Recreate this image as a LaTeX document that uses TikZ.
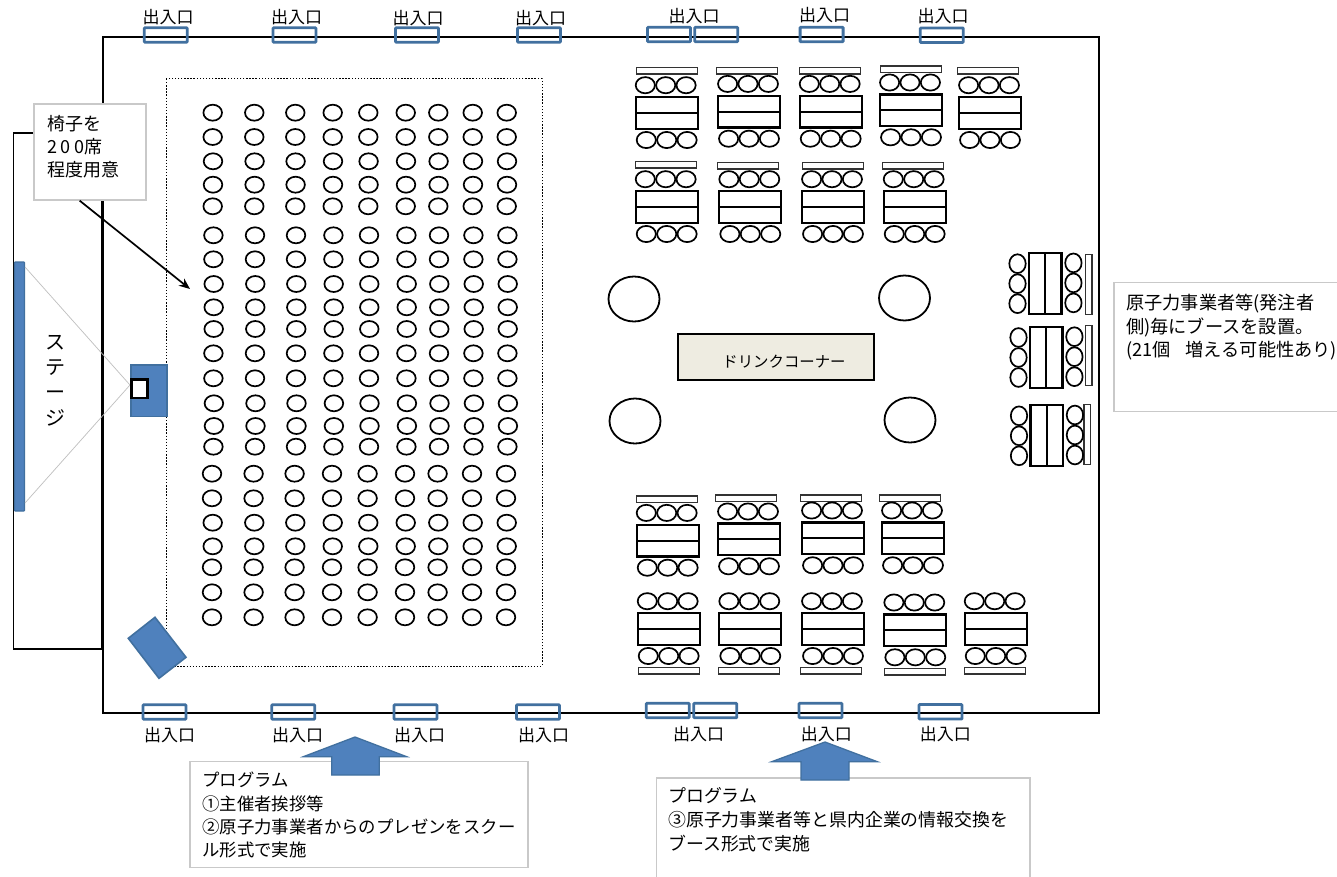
\documentclass[tikz,border=0pt]{standalone}
\usepackage{fontspec}
\setmainfont{Noto Sans CJK JP}
\newfontfamily\spreadfont[LetterSpace=20]{Noto Sans CJK JP}
\usetikzlibrary{shapes.geometric,arrows.meta}
\definecolor{hallblue}{HTML}{4F81BD}
\definecolor{edgeblue}{HTML}{41709F}
\definecolor{memogray}{HTML}{C9C9C9}
\definecolor{counter}{HTML}{EEECE1}
\tikzset{
	wall/.style={draw=black, line width=1.8pt},
	door/.style={draw=edgeblue, rectangle, rounded corners=0.8pt, line width=2.8pt, minimum width=43pt, minimum height=14.5pt, inner sep=0pt},
	doorlabel/.style={font=\fontsize{17}{20}\selectfont, inner sep=0pt},
	seat/.style={draw=black, ellipse, line width=1.7pt, minimum width=18.6pt, minimum height=16pt, inner sep=0pt},
	boothseat/.style={draw=black, ellipse, line width=1.7pt, minimum width=19.2pt, minimum height=16.2pt, inner sep=0pt},
	sideseat/.style={draw=black, ellipse, line width=1.7pt, minimum width=16.4pt, minimum height=18.8pt, inner sep=0pt},
	deskpart/.style={draw=black, rectangle, line width=2.2pt, minimum width=62pt, minimum height=15.8pt, inner sep=0pt},
	sidepart/.style={draw=black, rectangle, line width=2.2pt, minimum width=16.2pt, minimum height=61pt, inner sep=0pt},
	plank/.style={draw=black!80, rectangle, line width=1.3pt, minimum width=61pt, minimum height=6.6pt, inner sep=0pt},
	sideplank/.style={draw=black!80, rectangle, line width=1.3pt, minimum width=6.6pt, minimum height=60pt, inner sep=0pt},
	roundtable/.style={draw=black, ellipse, line width=1.8pt, minimum width=51pt, minimum height=45pt, inner sep=0pt},
	memo/.style={draw=memogray, fill=white, line width=1.3pt},
	memotext/.style={align=left, inner sep=0pt, anchor=north west},
	bluepart/.style={draw=edgeblue, fill=hallblue, line width=1.3pt},
}
\newcommand{\booth}[5]{
	\node[deskpart] (t-#1-a) at (#2,#3-7.9) {};
	\node[deskpart] (t-#1-b) at (#2,#3+7.9) {};
	\node[plank] (p-#1) at (#2+#4,#3+#5) {};
	\foreach \k in {-20.4,0,20.4} {
		\node[boothseat] at (#2-1+\k,#3-27.8) {};
		\node[boothseat] at (#2+\k,#3+27) {};
	}
}
\newcommand{\sidebooth}[5]{
	\node[sidepart] (t-#1-a) at (#2-8.1,#3) {};
	\node[sidepart] (t-#1-b) at (#2+8.1,#3) {};
	\node[sideplank] (p-#1) at (#2+#4,#3+#5) {};
	\foreach \k in {-20,0,20} {
		\node[sideseat] at (#2-27.7,#3+\k) {};
		\node[sideseat] at (#2+28.2,#3-0.8+\k) {};
	}
}

\begin{document}
\begin{tikzpicture}[x=1pt,y=-1pt]
	\clip (0,0) rectangle (1337,877);
	\fill[white] (0,0) rectangle (1337,877);

	\draw[wall] (103,37) rectangle (1099,713);
	\draw[wall] (102,133) -- (13.5,133) -- (13.5,649) -- (102,649);
	\draw[line width=2.8pt] (102,133) -- (102,649);
	\draw[black, line width=1pt, dash pattern=on 1.4pt off 1.7pt] (166,79) rectangle (542,666);

	\foreach \y/\d in {112.7/0,137/0,161.3/.3,184.7/.3,206.3/0,235.3/.7,259.3/.7,284/1,307.3/1,329/1,353.3/.7,378.3/.7,403.3/1.2,426/1.2,446.7/.7,473.7/-.7,498.3/-.7,522.7/0,546.3/0,567.3/-.7,592.3/-.7,617.3/-.7}
		\foreach \x in {212.7,254.3,295.3,332.7,368.3,405.7,438.3,472.7,506.7}
			\node[seat] at (\x+\d,\y) {};

	\foreach \n/\x/\y in {1/165.8/35,2/294.5/35,3/417/35,4/539/35,5/669/34.5,6/716.3/34.5,7/821.6/34.5,8/941.8/35.2,9/164.5/712,10/293.3/712,11/415.5/712,12/538/712,13/667.8/710.5,14/715.3/710.5,15/820.5/710.5,16/940.5/711.8}
		\node[door] (d-\n) at (\x,\y) {};
	\foreach \n/\x/\y in {1/168/17,2/296.5/17,3/418/18,4/540.5/18,5/694/16,6/824.7/15,7/943/16,8/169.5/735,9/297.5/735,10/419.5/735,11/543.7/735,12/698.5/734,13/826.3/734,14/945.3/734}
		\node[doorlabel] (l-\n) at (\x,\y) {出入口};

	\booth{1}{666.7}{113}{0}{-42.4}
	\booth{2}{749}{111.7}{-1.7}{-41}
	\booth{3}{830.7}{111.7}{-1}{-41}
	\booth{4}{911}{110.3}{0}{-41}
	\booth{5}{990}{113}{-2}{-42.3}
	\booth{6}{666.7}{207}{-1}{-42.3}
	\booth{7}{750.3}{207}{-2.3}{-41.3}
	\booth{8}{833}{207}{-.3}{-41.3}
	\booth{9}{914.7}{207}{-1.7}{-41.3}
	\booth{10}{667.7}{540.7}{-1}{-41.4}
	\booth{11}{749}{539.3}{-3.3}{-41}
	\booth{12}{833}{538.3}{-2.3}{-40}
	\booth{13}{913}{538.3}{-3}{-40}
	\booth{14}{668.7}{629}{.3}{41.7}
	\booth{15}{750.3}{629}{-1.3}{41.7}
	\booth{16}{833}{629}{-2.3}{41.7}
	\booth{17}{915.3}{630.3}{0}{41.4}
	\booth{18}{995.7}{629}{-1}{41.7}
	\sidebooth{19}{1045.2}{283.7}{43.5}{.8}
	\sidebooth{20}{1046.2}{357.5}{42.5}{-1.7}
	\sidebooth{21}{1046.7}{435.8}{40.6}{-1.6}

	\node[roundtable] (r-1) at (634,299) {};
	\node[roundtable] (r-2) at (904.5,298) {};
	\node[roundtable] (r-3) at (635,421) {};
	\node[roundtable] (r-4) at (910,420) {};
	\node[draw=black, fill=counter, rectangle, line width=1.6pt, minimum width=196pt, minimum height=46pt, inner sep=0pt] (drink) at (776,357) {};
	\node[font=\fontsize{15.4}{18}\selectfont, inner sep=0pt] (drinklabel) at (784,362) {ドリンクコーナー};

	\draw[bluepart, rounded corners=0.8pt] (14.5,262) rectangle (24.5,511);
	\draw[black!25, line width=0.7pt] (25,267) -- (130,385) -- (25,503);
	\node[font=\fontsize{20}{25.3}\selectfont, align=center, inner sep=0pt, anchor=north] (stage) at (55,335) {ス\\テ\\ー\\ジ};
	\draw[bluepart] (131,365) rectangle (167,416.5);
	\node[draw=black, fill=white, rectangle, line width=2.8pt, minimum width=15.5pt, minimum height=18.5pt, inner sep=0pt] (mic) at (139.5,388.8) {};
	\draw[bluepart, line width=1.6pt] (155,617.3) -- (186,657.3) -- (159,678.3) -- (128.3,638.3) -- cycle;

	\node[memo, rectangle, minimum width=112pt, minimum height=96pt, inner sep=0pt] (chairnote) at (90,152) {};
	\node[memotext, font=\fontsize{18}{23.3}\selectfont] (chairtext) at (47,115) {椅子を\\{\spreadfont 200}席\\程度用意};
	\coordinate (chairs) at (190,289);
	\draw[-{Stealth[length=11pt,width=9pt]}, line width=1.7pt] (chairnote.258) -- (chairs);

	\draw[memo] (1337,282.5) -- (1114,282.5) -- (1114,411.5) -- (1337,411.5);
	\node[memotext, font=\fontsize{18.2}{23.6}\selectfont] (boothtext) at (1126,294) {原子力事業者等(発注者\\側)毎にブースを設置。\\(21個\hspace{15pt}増える可能性あり)};

	\node[memo, rectangle, minimum width=338pt, minimum height=106.5pt, inner sep=0pt] (progone) at (359,814.5) {};
	\node[memotext, font=\fontsize{17.4}{23.2}\selectfont] (progonetext) at (202,772) {プログラム\\①主催者挨拶等\\②原子力事業者からのプレゼンをスクー\\ル形式で実施};
	\draw[memo] (656.7,877) -- (656.7,778) -- (1030,778) -- (1030,877);
	\node[memotext, font=\fontsize{17.9}{24}\selectfont] (progtwotext) at (668,787) {プログラム\\③原子力事業者等と県内企業の情報交換を\\ブース形式で実施};

	\draw[bluepart] (355,737) -- (406.7,756.7) -- (379.3,756.7) -- (379.3,775) -- (331.7,775) -- (331.7,756.7) -- (303.3,756.7) -- cycle;
	\draw[bluepart] (825,742) -- (877.3,761.7) -- (849,761.7) -- (849,780) -- (801,780) -- (801,761.7) -- (771.7,761.7) -- cycle;
\end{tikzpicture}
\end{document}
